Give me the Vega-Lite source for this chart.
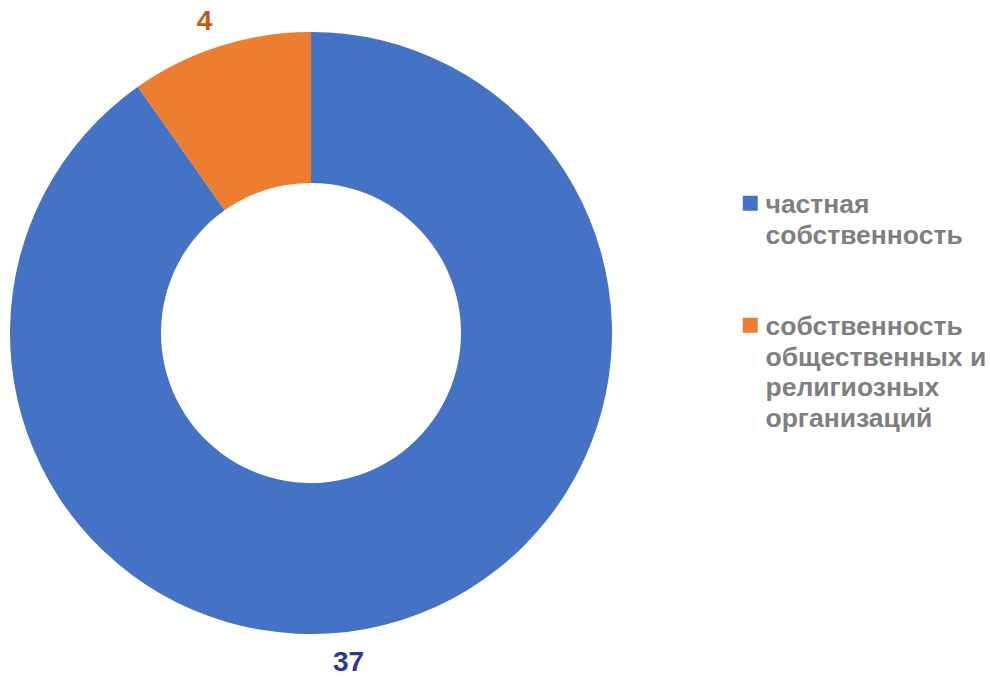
{
  "$schema": "https://vega.github.io/schema/vega-lite/v6.json",
  "width": 622,
  "height": 666,
  "padding": 0,
  "autosize": {"type": "pad"},
  "background": "white",
  "config": {"view": {"stroke": null}, "style": {"guide-label": {"lineHeight": 30.5, "dy": -11}}},
  "data": {
    "values": [
      {"category": "частная собственность", "value": 37, "order": 1},
      {"category": "собственность общественных и религиозных организаций", "value": 4, "order": 2}
    ]
  },
  "encoding": {
    "theta": {"field": "value", "type": "quantitative", "stack": true},
    "order": {"field": "order", "type": "quantitative"}
  },
  "layer": [
    {
      "mark": {"type": "arc", "outerRadius": 301, "innerRadius": 150},
      "encoding": {
        "color": {
          "field": "category",
          "type": "nominal",
          "sort": ["частная собственность", "собственность общественных и религиозных организаций"],
          "scale": {"range": ["#4472C4", "#ED7D31"]},
          "legend": {
            "title": null,
            "orient": "none",
            "legendX": 737,
            "legendY": 190,
            "symbolType": "square",
            "symbolSize": 225,
            "symbolStrokeWidth": 0,
            "labelFont": "Liberation Sans",
            "labelFontSize": 26.5,
            "labelFontWeight": "bold",
            "labelColor": "#7F7F7F",
            "labelOffset": 2,
            "labelLimit": 400,
            "labelBaseline": "top",
            "rowPadding": 62,
            "labelExpr": "datum.label == 'частная собственность' ? ['частная', 'собственность'] : ['собственность', 'общественных и', 'религиозных', 'организаций']"
          }
        }
      }
    },
    {
      "mark": {"type": "text", "radius": 330, "dx": -62, "dy": 15, "font": "Liberation Sans", "fontSize": 28, "fontWeight": "bold", "color": "#2B3990"},
      "encoding": {
        "text": {"condition": {"test": "datum.value == 37", "field": "value", "type": "quantitative"}, "value": ""}
      }
    },
    {
      "mark": {"type": "text", "radius": 330, "dx": -7, "dy": 4, "font": "Liberation Sans", "fontSize": 28, "fontWeight": "bold", "color": "#C55A11"},
      "encoding": {
        "text": {"condition": {"test": "datum.value == 4", "field": "value", "type": "quantitative"}, "value": ""}
      }
    }
  ]
}
